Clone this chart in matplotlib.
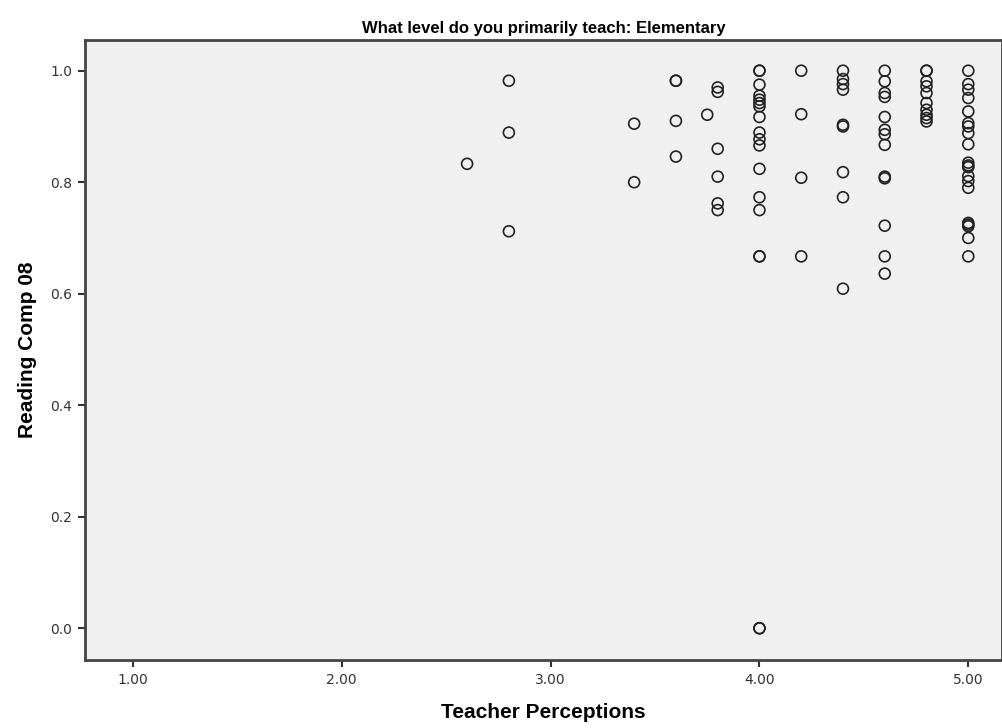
import numpy as np
import matplotlib.pyplot as plt

# Teacher Perceptions score levels and the Reading Comp 08 values seen at each
x_levels = [2.6, 2.8, 3.4, 3.6, 3.75, 3.8, 4.0, 4.2, 4.4, 4.6, 4.8, 5.0]

y_260 = [0.833]
y_280 = [0.982, 0.889, 0.712]
y_340 = [0.905, 0.800]
y_360 = [0.982, 0.982, 0.910, 0.846]
y_375 = [0.921]
y_380 = [0.970, 0.962, 0.860, 0.810, 0.762, 0.750]
y_400 = [1.0, 1.0, 0.975, 0.955, 0.948, 0.942, 0.936, 0.917, 0.889, 0.877,
         0.866, 0.824, 0.773, 0.750, 0.667, 0.667, 0.0, 0.0]
y_420 = [1.0, 0.922, 0.808, 0.667]
y_440 = [1.0, 0.985, 0.976, 0.966, 0.903, 0.900, 0.818, 0.773, 0.609]
y_460 = [1.0, 0.981, 0.960, 0.953, 0.917, 0.894, 0.886, 0.867, 0.810, 0.807,
         0.722, 0.667, 0.636]
y_480 = [1.0, 1.0, 0.981, 0.972, 0.960, 0.942, 0.930, 0.921, 0.915, 0.909]
y_500 = [1.0, 0.976, 0.966, 0.951, 0.927, 0.906, 0.900, 0.888, 0.868, 0.835,
         0.830, 0.827, 0.811, 0.802, 0.790, 0.727, 0.724, 0.721, 0.700, 0.667]

y_groups = [y_260, y_280, y_340, y_360, y_375, y_380, y_400, y_420, y_440,
            y_460, y_480, y_500]

teacher = []
reading = []
for xv, ys in zip(x_levels, y_groups):
    teacher += [xv] * len(ys)
    reading += ys

x_ticks = [1.0, 2.0, 3.0, 4.0, 5.0]
y_ticks = [0.0, 0.2, 0.4, 0.6, 0.8, 1.0]

fig = plt.figure(figsize=(10.03, 7.28), dpi=100)
ax = fig.add_axes([0.0847, 0.0934, 0.914, 0.8516])
ax.set_facecolor("#f0f0f0")

ax.scatter(teacher, reading, s=62, facecolors="none", edgecolors="#222222",
           linewidths=1.2, zorder=3)

ax.set_xlim(0.77, 5.16)
ax.set_ylim(-0.057, 1.055)
ax.set_xticks(x_ticks)
ax.set_xticklabels(["%.2f" % v for v in x_ticks])
ax.set_yticks(y_ticks)
ax.set_yticklabels(["%.1f" % v for v in y_ticks])
ax.tick_params(direction="out", length=5, width=1.5, color="#333333",
               labelsize=10, labelcolor="#333333", pad=4)

for sp in ax.spines.values():
    sp.set_linewidth(2)
    sp.set_color("#444444")

narrow = ["Liberation Sans Narrow", "Liberation Sans", "DejaVu Sans"]
ax.set_title("What level do you primarily teach: Elementary", fontsize=12,
             fontweight="bold", family=narrow, pad=5)
ax.set_xlabel("Teacher Perceptions", fontsize=15, fontweight="bold",
              family=narrow, labelpad=12)
ax.set_ylabel("Reading Comp 08", fontsize=15, fontweight="bold",
              family=narrow, labelpad=10)

fig.savefig("out.png", dpi=100)
